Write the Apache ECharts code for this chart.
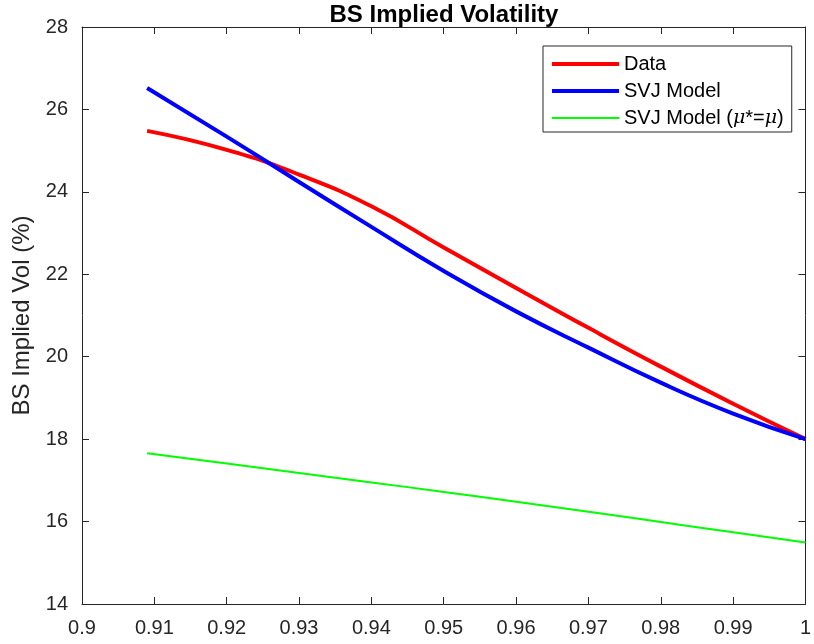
<!DOCTYPE html>
<html>
<head>
<meta charset="utf-8">
<script src="https://cdn.jsdelivr.net/npm/echarts@6/dist/echarts.min.js"></script>
<style>
  html, body { margin: 0; padding: 0; background: #fff; }
  #chart { width: 814px; height: 644px; }
</style>
</head>
<body>
<div id="chart"></div>
<script>
  // moneyness (x) and implied vols in %
  var moneyness = [0.909, 0.92, 0.93, 0.94, 0.95, 0.96, 0.97, 0.98, 0.99, 1.0];
  var dataVol   = [25.48, 25.02, 24.42, 23.65, 22.65, 21.67, 20.70, 19.76, 18.86, 18.00];
  var svjVol    = [26.52, 25.34, 24.24, 23.15, 22.08, 21.10, 20.22, 19.37, 18.62, 18.00];
  var svjMuVol  = [17.66, 17.41, 17.18, 16.95, 16.72, 16.48, 16.24, 15.99, 15.74, 15.49];

  var yTicks = [14, 16, 18, 20, 22, 24, 26, 28];

  var axisColor = '#262626';
  var fontFam = 'Liberation Sans, Arial, sans-serif';

  function pairs(ys) {
    return moneyness.map(function (x, i) { return [x, ys[i]]; });
  }

  var myChart = echarts.init(document.getElementById('chart'));
  var option = {
    backgroundColor: '#fff',
    animation: false,
    title: {
      text: 'BS Implied Volatility',
      left: 444,
      textAlign: 'center',
      top: 3,
      padding: 0,
      textStyle: { fontFamily: fontFam, fontSize: 24, fontWeight: 'bold', color: '#000' }
    },
    grid: { left: 82, right: 6, top: 27, bottom: 40 },
    legend: {
      orient: 'vertical',
      left: 543,
      top: 46,
      itemWidth: 67,
      itemHeight: 14,
      itemGap: 7,
      padding: [8, 8, 4, 7],
      borderColor: axisColor,
      borderWidth: 1,
      backgroundColor: '#fff',
      // hide the symbol the line series puts in the middle of its legend icon
      itemStyle: { opacity: 0 },
      textStyle: {
        fontFamily: fontFam, fontSize: 20, color: '#000',
        rich: {
          n: { fontFamily: fontFam, fontSize: 20, color: '#000' },
          i: { fontFamily: 'DejaVu Serif, serif', fontStyle: 'italic', fontSize: 19, color: '#000' }
        }
      },
      formatter: function (name) {
        if (name === 'SVJ Model (mu)') {
          return '{n|SVJ Model (}{i|μ}{n|*=}{i|μ}{n|)}';
        }
        return name;
      },
      data: [
        { name: 'Data', lineStyle: { width: 4 } },
        { name: 'SVJ Model', lineStyle: { width: 4 } },
        { name: 'SVJ Model (mu)', lineStyle: { width: 2 } }
      ]
    },
    xAxis: [{
      type: 'value',
      min: 0.9,
      max: 1.0,
      interval: 0.01,
      position: 'bottom',
      axisLine: { show: true, onZero: false, lineStyle: { color: axisColor, width: 1 } },
      axisTick: { show: true, inside: true, length: 7, lineStyle: { color: axisColor } },
      splitLine: { show: false },
      axisLabel: {
        fontFamily: fontFam, fontSize: 20, color: axisColor, margin: 14,
        formatter: function (v) { return String(+v.toFixed(2)); }
      }
    }, {
      type: 'value',
      min: 0.9,
      max: 1.0,
      interval: 0.01,
      position: 'top',
      axisLine: { show: true, onZero: false, lineStyle: { color: axisColor, width: 1 } },
      axisTick: { show: true, inside: true, length: 7, lineStyle: { color: axisColor } },
      splitLine: { show: false },
      axisLabel: { show: false }
    }],
    yAxis: [{
      type: 'value',
      min: yTicks[0],
      max: yTicks[yTicks.length - 1],
      interval: 2,
      position: 'left',
      name: 'BS Implied Vol (%)',
      nameLocation: 'middle',
      nameGap: 46,
      nameRotate: 90,
      nameTextStyle: { fontFamily: fontFam, fontSize: 24, color: axisColor },
      axisLine: { show: true, onZero: false, lineStyle: { color: axisColor, width: 1 } },
      axisTick: { show: true, inside: true, length: 7, lineStyle: { color: axisColor } },
      splitLine: { show: false },
      axisLabel: { fontFamily: fontFam, fontSize: 20, color: axisColor, margin: 14 }
    }, {
      type: 'value',
      min: yTicks[0],
      max: yTicks[yTicks.length - 1],
      interval: 2,
      position: 'right',
      axisLine: { show: true, onZero: false, lineStyle: { color: axisColor, width: 1 } },
      axisTick: { show: true, inside: true, length: 7, lineStyle: { color: axisColor } },
      splitLine: { show: false },
      axisLabel: { show: false }
    }],
    series: [
      {
        name: 'Data',
        type: 'line',
        smooth: true,
        symbol: 'none',
        color: '#ff0000',
        lineStyle: { color: '#ff0000', width: 4 },
        data: pairs(dataVol)
      },
      {
        name: 'SVJ Model',
        type: 'line',
        smooth: true,
        symbol: 'none',
        color: '#0000ff',
        lineStyle: { color: '#0000ff', width: 4 },
        data: pairs(svjVol)
      },
      {
        name: 'SVJ Model (mu)',
        type: 'line',
        smooth: true,
        symbol: 'none',
        color: '#00ff00',
        lineStyle: { color: '#00ff00', width: 2 },
        data: pairs(svjMuVol)
      }
    ]
  };
  myChart.setOption(option);
</script>
</body>
</html>
